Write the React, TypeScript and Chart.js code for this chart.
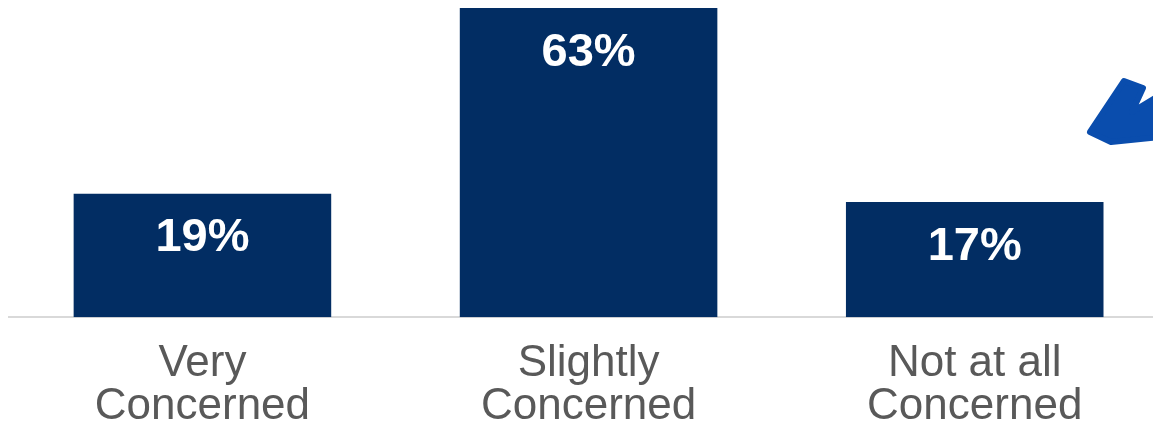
import React, { useEffect, useRef } from "react";
import { Chart, registerables } from "chart.js";

Chart.register(...registerables);

const categories: string[][] = [
  ["Very", "Concerned"],
  ["Slightly", "Concerned"],
  ["Not at all", "Concerned"],
];
const values: number[] = [19, 63, 17];
const valueLabels: string[] = ["19%", "63%", "17%"];
const Y_MIN = -10.3;
const Y_MAX = 63;

const BAR_COLOR = "#022D63";
const AXIS_COLOR = "#D9D9D9";
const LABEL_COLOR = "#595959";
const FONT = "'Liberation Sans', Arial, Helvetica, sans-serif";

const CANVAS_W = 1170;
const CANVAS_H = 446;

const valueLabelPlugin = {
  id: "valueLabels",
  afterDatasetsDraw(chart: any) {
    const ctx = chart.ctx;
    const meta = chart.getDatasetMeta(0);
    ctx.save();
    ctx.fillStyle = "#FFFFFF";
    ctx.font = `bold 47px ${FONT}`;
    ctx.textAlign = "center";
    ctx.textBaseline = "alphabetic";
    meta.data.forEach((bar: any, i: number) => {
      ctx.fillText(valueLabels[i], bar.x, bar.y + 57.5);
    });
    ctx.restore();
  },
};

const decorationPlugin = {
  id: "decoration",
  afterDraw(chart: any) {
    const ctx = chart.ctx;
    ctx.save();
    ctx.fillStyle = "#0A4DAD";
    ctx.strokeStyle = "#0A4DAD";
    ctx.lineJoin = "round";
    ctx.lineWidth = 6;
    ctx.beginPath();
    ctx.moveTo(1124, 73);
    ctx.lineTo(1143, 80);
    ctx.lineTo(1132, 104);
    ctx.lineTo(1160, 87);
    ctx.lineTo(1160, 129);
    ctx.lineTo(1111, 134);
    ctx.lineTo(1090, 124);
    ctx.closePath();
    ctx.fill();
    ctx.stroke();
    ctx.restore();
  },
};

export default function App() {
  const canvasRef = useRef<HTMLCanvasElement | null>(null);

  useEffect(() => {
    document.documentElement.style.overflow = "hidden";
    document.body.style.margin = "8px 0 0 0";
    if (!canvasRef.current) return;
    const chart = new Chart(canvasRef.current, {
      type: "bar",
      data: {
        labels: categories,
        datasets: [
          {
            data: values,
            backgroundColor: BAR_COLOR,
            borderWidth: 0,
            barPercentage: 0.667,
            categoryPercentage: 1,
            base: Y_MIN,
          } as any,
        ],
      },
      options: {
        animation: false,
        responsive: false,
        maintainAspectRatio: false,
        layout: { padding: { left: 9.35, right: 2.2, top: 0, bottom: 0 } },
        plugins: {
          legend: { display: false },
          tooltip: { enabled: false },
        },
        scales: {
          x: {
            grid: { display: false, drawTicks: false },
            border: { display: true, color: AXIS_COLOR, width: 2 },
            ticks: {
              color: LABEL_COLOR,
              font: { family: FONT, size: 44, lineHeight: 0.985 },
              padding: 25,
              maxRotation: 0,
              autoSkip: false,
            },
          },
          y: {
            display: false,
            min: Y_MIN,
            max: Y_MAX,
          },
        },
      },
      plugins: [valueLabelPlugin, decorationPlugin],
    });
    return () => chart.destroy();
  }, []);

  return (
    <div style={{ width: `${CANVAS_W}px`, height: `${CANVAS_H}px` }}>
      <canvas ref={canvasRef} width={CANVAS_W} height={CANVAS_H} style={{ display: "block" }} />
    </div>
  );
}
